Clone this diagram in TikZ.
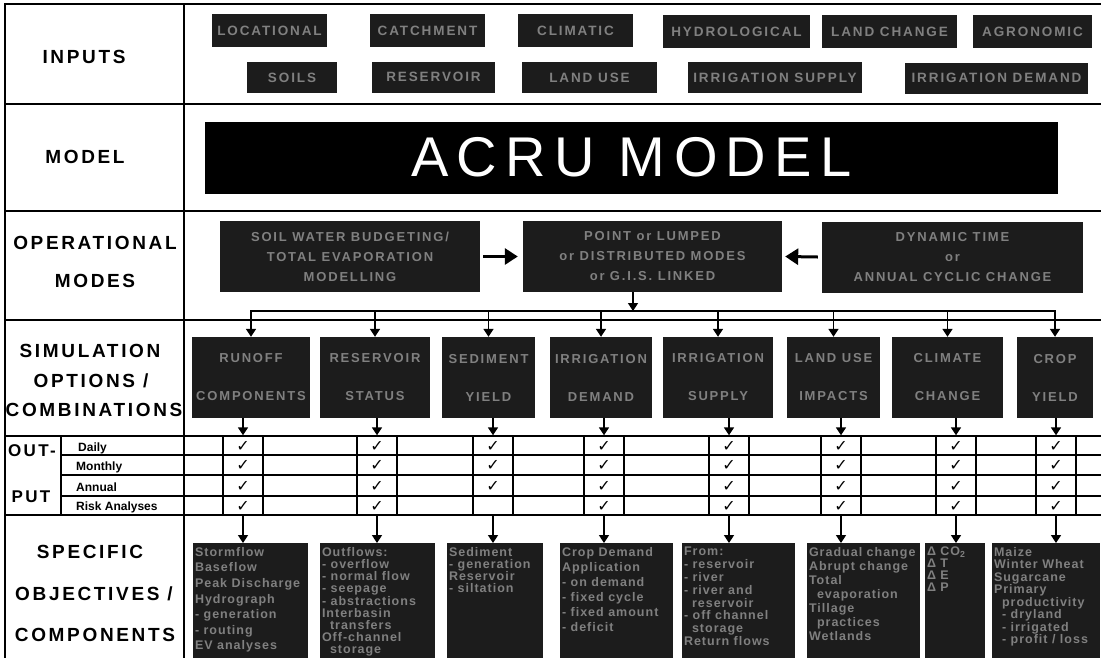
\documentclass[tikz,border=0pt]{standalone}
\usepackage{fontspec}
\setmainfont{Liberation Sans}
\newfontfamily\lblfont{Liberation Sans}[LetterSpace=14]
\newfontfamily\boxfont{Liberation Sans}[LetterSpace=14]
\newfontfamily\objfont{Liberation Sans}[LetterSpace=8]
\newfontfamily\acrufont{Liberation Sans}[LetterSpace=15]
\newfontfamily\chkfont{DejaVu Sans}
\usetikzlibrary{arrows.meta,calc}
\definecolor{boxfill}{RGB}{28,28,28}
\definecolor{boxtext}{RGB}{128,128,128}
\begin{document}
\begin{tikzpicture}[x=1pt,y=-1pt,
  grid/.style={line width=1.4pt},
  arr/.style={line width=1.6pt,-{Triangle[width=10pt,length=8pt]}},
  bigarr/.style={line width=3pt,-{Triangle[width=16pt,length=13pt]}},
  lbl/.style={font=\lblfont\bfseries\fontsize{19}{22}\selectfont, inner sep=0pt},
  sublbl/.style={font=\bfseries\fontsize{12}{14}\selectfont, inner sep=0pt, anchor=west},
  dbox/.style={fill=boxfill, draw=none, text=boxtext, inner sep=0pt, align=center},
  ibox/.style={dbox, font=\boxfont\bfseries\fontsize{13.5}{15}\selectfont},
  obox/.style={dbox, font=\boxfont\bfseries\fontsize{13}{20}\selectfont, minimum height=71pt},
  sbox/.style={dbox, font=\boxfont\bfseries\fontsize{13}{38}\selectfont, minimum height=81pt},
  chkbox/.style={draw, line width=1.4pt, minimum width=40pt, minimum height=79pt, inner sep=0pt},
  chk/.style={font=\chkfont\bfseries\fontsize{16}{16}\selectfont, inner sep=0pt},
  objbox/.style={dbox, minimum height=130pt, anchor=north},
  objtext/.style={text=boxtext, inner sep=0pt, anchor=north west, align=left, font=\objfont\bfseries\fontsize{12.5}{#1}\selectfont},
]
\useasboundingbox (0,0) rectangle (1101,657);
\clip (0,0) rectangle (1101,657);
\fill[white] (0,0) rectangle (1101,657);

% ---------- grid ----------
\draw[grid] (1101,4) -- (5,4) -- (5,660);
\draw[grid] (184,4) -- (184,660);
\foreach \y in {104,211,320,436,515} \draw[grid] (5,\y) -- (1101,\y);
\foreach \y in {455,475,496} \draw[grid] (61,\y) -- (1101,\y);
\draw[grid] (61,436) -- (61,515);

% ---------- row labels ----------
\node[lbl] (linputs) at (84,57) {INPUTS};
\node[lbl] (lmodel) at (85,157) {MODEL};
\node[lbl] (loper) at (95,243) {OPERATIONAL};
\node[lbl] (lmodes) at (95,281) {MODES};
\node[lbl] (lsim) at (90,351) {SIMULATION};
\node[lbl] (lopt) at (91,381) {OPTIONS /};
\node[lbl] (lcomb) at (94,410) {COMBINATIONS};
\node[lbl, font=\lblfont\bfseries\fontsize{17}{20}\selectfont] (lout) at (32,451) {OUT-};
\node[lbl, font=\lblfont\bfseries\fontsize{17}{20}\selectfont] (lput) at (31,497) {PUT};
\node[sublbl] (ldaily) at (78,448) {Daily};
\node[sublbl] (lmonthly) at (76,467) {Monthly};
\node[sublbl] (lannual) at (76,487) {Annual};
\node[sublbl] (lrisk) at (76,507) {Risk Analyses};
\node[lbl] (lspec) at (90,552) {SPECIFIC};
\node[lbl] (lobj) at (94,594) {OBJECTIVES /};
\node[lbl] (lcompo) at (95,635) {COMPONENTS};

% ---------- inputs ----------
\node[ibox, minimum width=115pt, minimum height=33pt] (iloc) at (269.5,30.5) {LOCATIONAL};
\node[ibox, minimum width=115pt, minimum height=33pt] (icat) at (427.5,30.5) {CATCHMENT};
\node[ibox, minimum width=115pt, minimum height=33pt] (iclim) at (575.5,30.5) {CLIMATIC};
\node[ibox, minimum width=147pt, minimum height=33pt] (ihyd) at (736.5,31.5) {HYDROLOGICAL};
\node[ibox, minimum width=135pt, minimum height=33pt] (ilch) at (889.5,31.5) {LAND CHANGE};
\node[ibox, minimum width=119pt, minimum height=33pt] (iagr) at (1032.5,31.5) {AGRONOMIC};
\node[ibox, minimum width=90pt, minimum height=31pt] (isoil) at (292,77.5) {SOILS};
\node[ibox, minimum width=123pt, minimum height=31pt] (ires) at (433.5,77) {RESERVOIR};
\node[ibox, minimum width=135pt, minimum height=31pt] (ilu) at (589.5,77.5) {LAND USE};
\node[ibox, minimum width=174pt, minimum height=31pt] (iis) at (775,77.5) {IRRIGATION SUPPLY};
\node[ibox, minimum width=183pt, minimum height=31pt] (iid) at (996.5,78) {IRRIGATION DEMAND};

% ---------- model ----------
\node[fill=black, text=white, inner sep=0pt, minimum width=853pt, minimum height=72pt,
      font=\acrufont\fontsize{56}{60}\selectfont] (acru) at (631.5,157.5) {ACRU MODEL};

% ---------- operational modes ----------
\node[obox, minimum width=260pt] (op1) at (350,256.5) {SOIL WATER BUDGETING/\\TOTAL EVAPORATION\\MODELLING};
\node[obox, minimum width=259pt] (op2) at (652.5,256.5) {POINT or LUMPED\\or DISTRIBUTED MODES\\or G.I.S. LINKED};
\node[obox, minimum width=261pt] (op3) at (952.5,257) {DYNAMIC TIME\\or\\ANNUAL CYCLIC CHANGE};
\draw[bigarr] ([xshift=3pt]op1.east) -- ([xshift=-5pt]op2.west);
\draw[bigarr] ([xshift=-4pt]op3.west) -- ([xshift=3pt]op2.east);

% ---------- simulation options ----------
\node[sbox, minimum width=118pt] (s1) at (251,377.5) {RUNOFF\\COMPONENTS};
\node[sbox, minimum width=110pt] (s2) at (375,377.5) {RESERVOIR\\STATUS};
\node[sbox, minimum width=93pt] (s3) at (488.5,377.5) {SEDIMENT\\YIELD};
\node[sbox, minimum width=102pt] (s4) at (601,377.5) {IRRIGATION\\DEMAND};
\node[sbox, minimum width=110pt] (s5) at (718,377.5) {IRRIGATION\\SUPPLY};
\node[sbox, minimum width=93pt] (s6) at (833.5,377.5) {LAND USE\\IMPACTS};
\node[sbox, minimum width=111pt] (s7) at (947.5,377.5) {CLIMATE\\CHANGE};
\node[sbox, minimum width=76pt] (s8) at (1055,377.5) {CROP\\YIELD};

\coordinate (busin) at (633,311);
\draw[arr] (op2.south -| busin) -- (busin);
\draw[line width=1.6pt, line cap=rect] (s1.north |- busin) -- (s8.north |- busin);
\foreach \i in {1,...,8} \draw[arr] (s\i.north |- busin) -- (s\i.north);

% ---------- output check columns ----------
\foreach \i/\x in {1/243,2/377,3/493,4/604,5/729,6/841,7/956,8/1056}{
  \node[chkbox] (c\i) at (\x,475.5) {};
  \draw[arr] (s\i.south -| c\i) -- (c\i.north);
}
\foreach \i/\x in {1/243,2/377,3/493,4/604,5/729,6/841,7/956,8/1056}{
  \node[chk] (ck\i a) at (\x,446) {✓};
  \node[chk] (ck\i b) at (\x,465.5) {✓};
  \node[chk] (ck\i c) at (\x,486) {✓};
}
\foreach \i/\x in {1/243,2/377,4/604,5/729,6/841,7/956,8/1056}{
  \node[chk] (ck\i d) at (\x,506) {✓};
}

% ---------- objectives ----------
\node[objbox, minimum width=115pt] (o1) at (250.5,543) {};
\node[objbox, minimum width=115pt] (o2) at (377.5,543) {};
\node[objbox, minimum width=96pt] (o3) at (495,543) {};
\node[objbox, minimum width=113pt] (o4) at (616.5,543) {};
\node[objbox, minimum width=113pt] (o5) at (738.5,543) {};
\node[objbox, minimum width=113pt] (o6) at (863.5,543) {};
\node[objbox, minimum width=60pt] (o7) at (955,543) {};
\node[objbox, minimum width=108pt] (o8) at (1046,543) {};
\foreach \i in {1,...,8} \draw[arr] (c\i.south) -- (c\i.south |- o\i.north);

\node[objtext=15.6] (o1t) at ($(o1.north west)+(2,4)$) {Stormflow\\Baseflow\\Peak Discharge\\Hydrograph\\- generation\\- routing\\EV analyses};
\node[objtext=12.2] (o2t) at ($(o2.north west)+(2,4)$) {Outflows:\\- overflow\\- normal flow\\- seepage\\- abstractions\\Interbasin\\\hspace*{8pt}transfers\\Off-channel\\\hspace*{8pt}storage};
\node[objtext=12] (o3t) at ($(o3.north west)+(2,4)$) {Sediment\\- generation\\Reservoir\\- siltation};
\node[objtext=15] (o4t) at ($(o4.north west)+(2,4)$) {Crop Demand\\Application\\- on demand\\- fixed cycle\\- fixed amount\\- deficit};
\node[objtext=12.8] (o5t) at ($(o5.north west)+(2,4)$) {From:\\- reservoir\\- river\\- river and\\\hspace*{8pt}reservoir\\- off channel\\\hspace*{8pt}storage\\Return flows};
\node[objtext=14] (o6t) at ($(o6.north west)+(2,4)$) {Gradual change\\Abrupt change\\Total\\\hspace*{8pt}evaporation\\Tillage\\\hspace*{8pt}practices\\Wetlands};
\node[objtext=12] (o7t) at ($(o7.north west)+(2,4)$) {Δ CO\textsubscript{2}\\Δ T\\Δ E\\Δ P};
\node[objtext=12.5] (o8t) at ($(o8.north west)+(2,4)$) {Maize\\Winter Wheat\\Sugarcane\\Primary\\\hspace*{8pt}productivity\\\hspace*{8pt}- dryland\\\hspace*{8pt}- irrigated\\\hspace*{8pt}- profit / loss};
\end{tikzpicture}
\end{document}
